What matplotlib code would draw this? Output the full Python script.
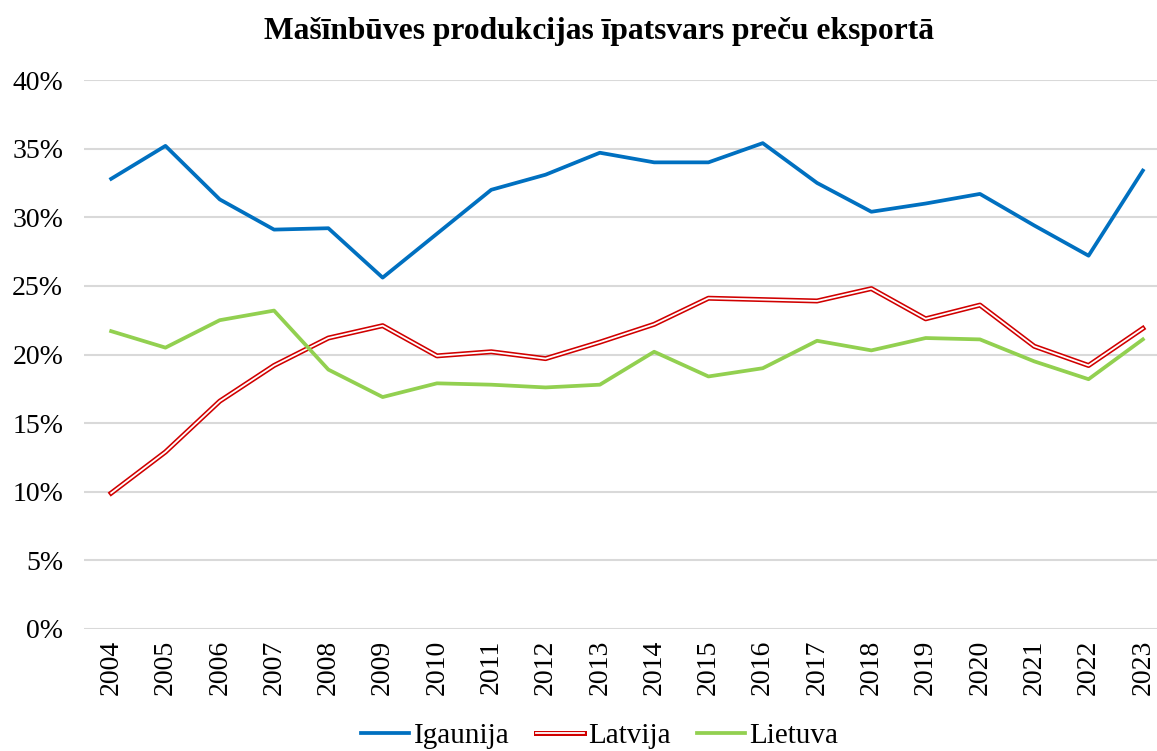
import matplotlib
matplotlib.use("Agg")
import matplotlib.pyplot as plt
import matplotlib.patheffects as pe
from matplotlib.ticker import FuncFormatter, MultipleLocator

years = [str(y) for y in range(2004, 2024)]
igaunija = [32.8, 35.2, 31.3, 29.1, 29.2, 25.6, 28.8, 32.0, 33.1, 34.7,
            34.0, 34.0, 35.4, 32.5, 30.4, 31.0, 31.7, 29.4, 27.2, 33.4]
latvija = [9.9, 12.9, 16.6, 19.2, 21.2, 22.1, 19.9, 20.2, 19.7, 20.9,
           22.2, 24.1, 24.0, 23.9, 24.8, 22.6, 23.6, 20.6, 19.2, 21.9]
lietuva = [21.7, 20.5, 22.5, 23.2, 18.9, 16.9, 17.9, 17.8, 17.6, 17.8,
           20.2, 18.4, 19.0, 21.0, 20.3, 21.2, 21.1, 19.5, 18.2, 21.1]

plt.rcParams['font.family'] = ['Liberation Serif', 'DejaVu Serif']

W, H = 1157, 751
fig = plt.figure(figsize=(W / 100, H / 100), dpi=100)
left, right, top, bottom = 84, 1170, 80, 629
ax = fig.add_axes([left / W, 1 - bottom / H, (right - left) / W, (bottom - top) / H])

x = list(range(len(years)))
ax.plot(x, igaunija, color='#0070C0', lw=2.7, label='Igaunija', solid_joinstyle='round', zorder=3)
ax.plot(x, latvija, color='white', lw=1.3, label='Latvija', zorder=3,
        path_effects=[pe.Stroke(linewidth=3.6, foreground='#D00000'), pe.Normal()])
ax.plot(x, lietuva, color='#92D050', lw=2.7, label='Lietuva', solid_joinstyle='round', zorder=3)

ax.set_xlim(-0.5, len(years) - 0.5)
ax.set_ylim(0, 40)
ax.yaxis.set_major_locator(MultipleLocator(5))
ax.yaxis.set_major_formatter(FuncFormatter(lambda v, p: f"{v:.0f}%"))
ax.set_xticks(x)
ax.set_xticklabels(years, rotation=90)
ax.grid(axis='y', color='#D9D9D9', lw=1.5)
ax.set_axisbelow(True)
for s in ax.spines.values():
    s.set_visible(False)
ax.tick_params(axis='both', length=0, labelsize=20)
ax.tick_params(axis='y', pad=15)
ax.tick_params(axis='x', pad=8)

fig.text(599 / W, 1 - 31 / H, 'Mašīnbūves produkcijas īpatsvars preču eksportā',
         ha='center', va='center', fontsize=22.7, fontweight='bold')

leg = fig.legend(loc='center', bbox_to_anchor=(600 / W, 1 - 736 / H), ncol=3, frameon=False,
                 fontsize=21, handlelength=1.65, handletextpad=0.15, columnspacing=0.9,
                 borderaxespad=0, borderpad=0)

fig.savefig('out.png', dpi=100)
